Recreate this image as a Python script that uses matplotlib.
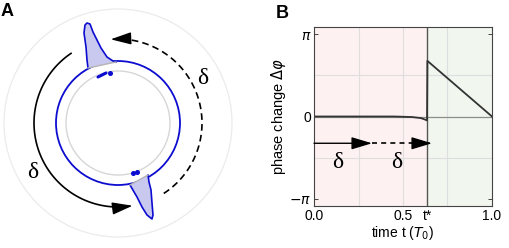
import numpy as np
import matplotlib
matplotlib.use("Agg")
import matplotlib.pyplot as plt
from matplotlib.patches import Circle, Polygon

plt.rcParams['font.family'] = ['Liberation Sans', 'DejaVu Sans']
plt.rcParams['mathtext.fontset'] = 'dejavusans'

# ---- panel A: ring with two spikes (pixel units, origin at ring centre) ----
ring_r = 62
inner_r = 52
outer_r = 114
top_spike_x = [-30, -31, -32, -34, -33, -31, -28, -25, -21, -17, -11, -5, -2]
top_spike_y = [55, 63, 76, 90, 98, 100, 99, 91, 83, 75, 66, 62, 61]
bot_spike_x = [12, 19, 24, 29, 34, 35, 34, 33, 31, 30]
bot_spike_y = [-62, -74, -84, -92, -96, -92, -80, -67, -59, -52]
top_dash_x = [-20, -12]
top_dash_y = [46, 50]
dots_x = [-8, 15, 19]
dots_y = [50, -50, -49]
arrow_r = 84
solid_arc_deg = (124, 280)
dashed_arc_deg = (-57, 95)

# ---- panel B: phase change vs time ----
t_star = 0.635
t_vals = [0.0, 0.45, 0.55, 0.60, 0.625, 0.635, 0.637, 1.0]
phi_vals = [0.0, 0.0, -0.02, -0.06, -0.12, -0.15, 2.12, 0.0]
arrow_y = -1.02
arrow_x = [0.0, 0.326, 0.663]
delta_x = [0.135, 0.466]
delta_y = -1.74

fig = plt.figure(figsize=(5.10, 2.48), dpi=100)

# panel A
axa = fig.add_axes([0, 7 / 248, 236 / 510, 236 / 248])
axa.set_xlim(-118, 118)
axa.set_ylim(-118, 118)
axa.axis('off')

axa.add_patch(Circle((0, 0), outer_r, fill=False, ec='#ebebeb', lw=0.9))
axa.add_patch(Circle((0, 0), inner_r, fill=False, ec='#d6d6d6', lw=1.0))
axa.add_patch(Circle((0, 0), ring_r, fill=False, ec='#0c0cd0', lw=1.3))

for sx, sy in [(top_spike_x, top_spike_y), (bot_spike_x, bot_spike_y)]:
    pts = np.column_stack([sx, sy])
    axa.add_patch(Polygon(pts, closed=True, fc='#c9c9f0', ec='none', zorder=3))
    axa.plot(sx, sy, color='#0c0cd0', lw=1.2, zorder=4)
    axa.plot([sx[0], sx[-1]], [sy[0], sy[-1]], color='#b4b4b4', lw=1.0, zorder=4)

axa.plot(top_dash_x, top_dash_y, color='#0c0cd0', lw=2.2, solid_capstyle='round', zorder=5)
axa.plot(dots_x, dots_y, 'o', color='#0c0cd0', ms=2.6, zorder=5)

head = dict(arrowstyle='-|>,head_length=0.9,head_width=0.27', color='black',
            lw=1.0, shrinkA=0, shrinkB=0, mutation_scale=14)

a0, a1 = np.deg2rad(solid_arc_deg)
th = np.linspace(a0, a1 - 0.06, 80)
axa.plot(arrow_r * np.cos(th), arrow_r * np.sin(th), color='black', lw=1.2)
axa.annotate('', xy=(arrow_r * np.cos(a1), arrow_r * np.sin(a1)),
             xytext=(arrow_r * np.cos(a1 - 0.08), arrow_r * np.sin(a1 - 0.08)),
             arrowprops=head)

b0, b1 = np.deg2rad(dashed_arc_deg)
th = np.linspace(b0, b1 - 0.06, 80)
axa.plot(arrow_r * np.cos(th), arrow_r * np.sin(th), color='black', lw=1.2, ls=(0, (4, 2.5)))
axa.annotate('', xy=(arrow_r * np.cos(b1), arrow_r * np.sin(b1)),
             xytext=(arrow_r * np.cos(b1 - 0.08), arrow_r * np.sin(b1 - 0.08)),
             arrowprops=head)

axa.text(85, 45, 'δ', family='Liberation Serif', fontsize=17, ha='center', va='center')
axa.text(-85, -50, 'δ', family='Liberation Serif', fontsize=17, ha='center', va='center')

# panel B
axb = fig.add_axes([314 / 510, 42 / 248, 178 / 510, 179 / 248])
axb.set_xlim(0, 1)
axb.set_ylim(-3.41, 3.41)
axb.axvspan(0, t_star, color='#fdf1f1', lw=0)
axb.axvspan(t_star, 1, color='#f1f7ef', lw=0)
for gx in [0.25, 0.5, 0.75]:
    axb.axvline(gx, color='#dedede', lw=0.8)
for gy in [-np.pi / 2, np.pi / 2]:
    axb.axhline(gy, color='#dedede', lw=0.8)
axb.axhline(0, color='#8c8c8c', lw=0.9)
axb.axvline(t_star, color='#555555', lw=1.0)
axb.plot(t_vals, phi_vals, color='#333333', lw=1.3)

axb.annotate('', xy=(arrow_x[1], arrow_y), xytext=(arrow_x[0], arrow_y), arrowprops=head)
axb.plot([arrow_x[1], arrow_x[2] - 0.04], [arrow_y, arrow_y], color='black', lw=1.2,
         ls=(0, (3, 2.5)))
axb.annotate('', xy=(arrow_x[2], arrow_y), xytext=(arrow_x[2] - 0.05, arrow_y), arrowprops=head)
for dx in delta_x:
    axb.text(dx, delta_y, 'δ', family='Liberation Serif', fontsize=17, ha='center', va='center')

axb.set_xticks([0, 0.5, t_star, 1.0])
axb.set_xticklabels(['0.0', '0.5', 't*', '1.0'])
axb.set_xticks([0.25, 0.75], minor=True)
axb.set_yticks([-np.pi, 0, np.pi])
axb.set_yticklabels([r'$-\pi$', '0', r'$\pi$'])
axb.set_yticks([-np.pi / 2, np.pi / 2], minor=True)
axb.tick_params(which='both', direction='in', top=True, right=True, length=3,
                width=0.7, color='#444444', labelsize=10, pad=2)
for sp in axb.spines.values():
    sp.set_color('#444444')
    sp.set_linewidth(0.8)
axb.set_xlabel(r'time t ($T_0$)', fontsize=10, labelpad=1)
axb.set_ylabel(r'phase change $\Delta\varphi$', fontsize=10.5, labelpad=1)

fig.text(7.5 / 510, 1 - 12 / 248, 'A', fontsize=13, weight='bold', ha='center', va='center')
fig.text(282 / 510, 1 - 13 / 248, 'B', fontsize=13, weight='bold', ha='center', va='center')

fig.savefig('out.png', dpi=100)
